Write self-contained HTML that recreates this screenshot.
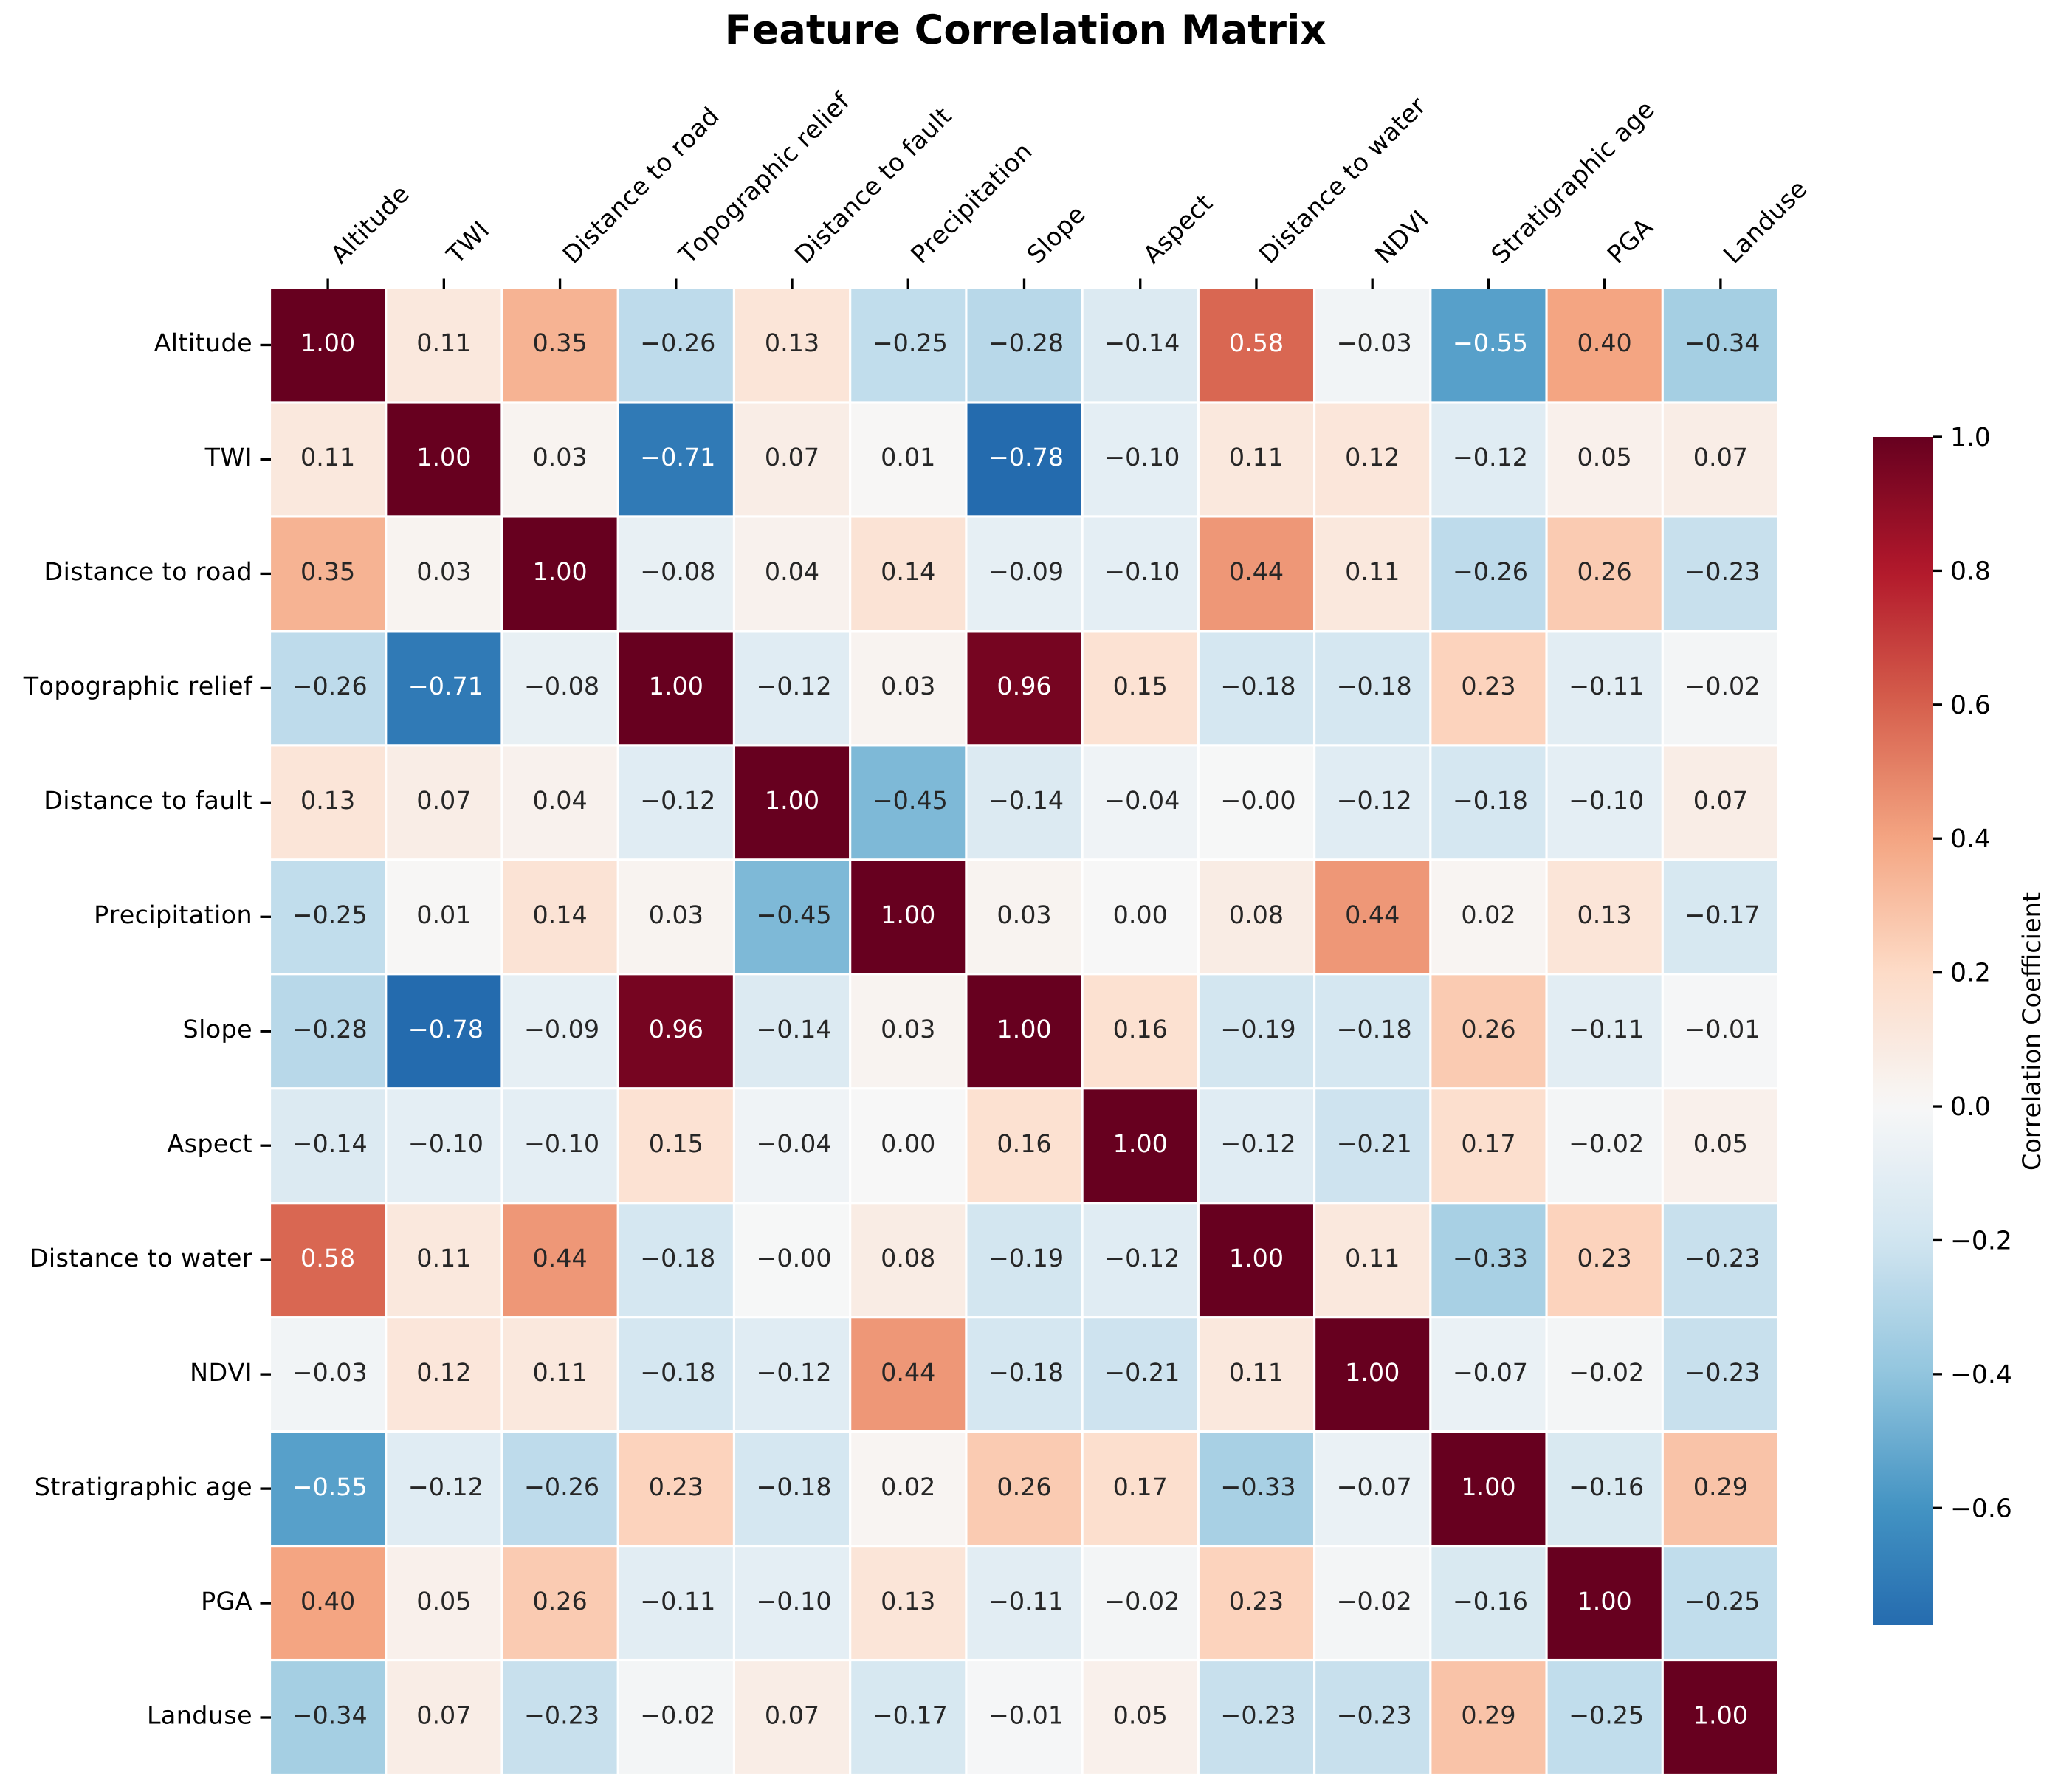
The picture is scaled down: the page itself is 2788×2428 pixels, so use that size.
<!DOCTYPE html>
<html lang="en">
<head>
<meta charset="utf-8">
<title>Feature Correlation Matrix</title>
<style>
  html, body { margin: 0; padding: 0; background: #ffffff; }
  svg { display: block; }
  text { font-family: "DejaVu Sans", "Liberation Sans", sans-serif; text-rendering: geometricPrecision; font-kerning: none; }
  .axis-label { letter-spacing: 0.4px; }
</style>
</head>
<body>
<svg id="chart" xmlns="http://www.w3.org/2000/svg" width="2788" height="2428" viewBox="0 0 2788 2428">
  <rect x="0" y="0" width="2788" height="2428" fill="#ffffff"></rect>
  <text x="1389" y="59" text-anchor="middle" font-size="54.17" font-weight="700" fill="#000000">Feature Correlation Matrix</text>
  <text transform="translate(2764 1397.5) rotate(-90)" text-anchor="middle" font-size="33.6" fill="#000000">Correlation Coefficient</text>
  <g id="heatmap"></g>
  <g id="x-axis"></g>
  <g id="y-axis"></g>
  <defs>
    <linearGradient id="cbar-gradient" x1="0" y1="0" x2="0" y2="1"></linearGradient>
  </defs>
  <g id="colorbar"></g>
</svg>
<script>
const features = ["Altitude", "TWI", "Distance to road", "Topographic relief", "Distance to fault", "Precipitation", "Slope", "Aspect", "Distance to water", "NDVI", "Stratigraphic age", "PGA", "Landuse"];
const rowAltitude = [1.00, 0.11, 0.35, -0.26, 0.13, -0.25, -0.28, -0.14, 0.58, -0.03, -0.55, 0.40, -0.34];
const rowTWI = [0.11, 1.00, 0.03, -0.71, 0.07, 0.01, -0.78, -0.10, 0.11, 0.12, -0.12, 0.05, 0.07];
const rowRoad = [0.35, 0.03, 1.00, -0.08, 0.04, 0.14, -0.09, -0.10, 0.44, 0.11, -0.26, 0.26, -0.23];
const rowRelief = [-0.26, -0.71, -0.08, 1.00, -0.12, 0.03, 0.96, 0.15, -0.18, -0.18, 0.23, -0.11, -0.02];
const rowFault = [0.13, 0.07, 0.04, -0.12, 1.00, -0.45, -0.14, -0.04, -0.004, -0.12, -0.18, -0.10, 0.07];
const rowPrecipitation = [-0.25, 0.01, 0.14, 0.03, -0.45, 1.00, 0.03, 0.00, 0.08, 0.44, 0.02, 0.13, -0.17];
const rowSlope = [-0.28, -0.78, -0.09, 0.96, -0.14, 0.03, 1.00, 0.16, -0.19, -0.18, 0.26, -0.11, -0.01];
const rowAspect = [-0.14, -0.10, -0.10, 0.15, -0.04, 0.00, 0.16, 1.00, -0.12, -0.21, 0.17, -0.02, 0.05];
const rowWater = [0.58, 0.11, 0.44, -0.18, -0.004, 0.08, -0.19, -0.12, 1.00, 0.11, -0.33, 0.23, -0.23];
const rowNDVI = [-0.03, 0.12, 0.11, -0.18, -0.12, 0.44, -0.18, -0.21, 0.11, 1.00, -0.07, -0.02, -0.23];
const rowStratigraphic = [-0.55, -0.12, -0.26, 0.23, -0.18, 0.02, 0.26, 0.17, -0.33, -0.07, 1.00, -0.16, 0.29];
const rowPGA = [0.40, 0.05, 0.26, -0.11, -0.10, 0.13, -0.11, -0.02, 0.23, -0.02, -0.16, 1.00, -0.25];
const rowLanduse = [-0.34, 0.07, -0.23, -0.02, 0.07, -0.17, -0.01, 0.05, -0.23, -0.23, 0.29, -0.25, 1.00];
const matrix = [rowAltitude, rowTWI, rowRoad, rowRelief, rowFault, rowPrecipitation, rowSlope, rowAspect, rowWater, rowNDVI, rowStratigraphic, rowPGA, rowLanduse];
const colorbarTicks = [1.0, 0.8, 0.6, 0.4, 0.2, 0.0, -0.2, -0.4, -0.6];
const colorMin = -0.775;
const colorMax = 1.0;

const NS = "http://www.w3.org/2000/svg";
const rdbuStops = ["#053061", "#2166ac", "#4393c3", "#92c5de", "#d1e5f0", "#f7f7f7", "#fddbc7", "#f4a582", "#d6604d", "#b2182b", "#67001f"];

function hexToRgb(hex) {
  return [parseInt(hex.slice(1, 3), 16), parseInt(hex.slice(3, 5), 16), parseInt(hex.slice(5, 7), 16)];
}
function colorRgb(value) {
  const t = Math.max(0, Math.min(1, 0.5 + value / 2)) * 10;
  const i = Math.min(9, Math.floor(t));
  const f = t - i;
  const a = hexToRgb(rdbuStops[i]);
  const b = hexToRgb(rdbuStops[i + 1]);
  return [0, 1, 2].map(function (k) { return Math.round(a[k] + (b[k] - a[k]) * f); });
}
function cssColor(rgb) {
  return "rgb(" + rgb[0] + "," + rgb[1] + "," + rgb[2] + ")";
}
function luminance(rgb) {
  const c = rgb.map(function (v) {
    const s = v / 255;
    return s <= 0.03928 ? s / 12.92 : Math.pow((s + 0.055) / 1.055, 2.4);
  });
  return 0.2126 * c[0] + 0.7152 * c[1] + 0.0722 * c[2];
}
function fmt(value, digits) {
  return value.toFixed(digits).replace("-", "\u2212");
}
function make(tag, attrs, parent) {
  const el = document.createElementNS(NS, tag);
  Object.keys(attrs).forEach(function (k) { el.setAttribute(k, attrs[k]); });
  parent.appendChild(el);
  return el;
}
function slug(s) {
  return s.toLowerCase().replace(/\s+/g, "-");
}

const gridLeft = 365.5;
const gridRight = 2409.5;
const gridTop = 390;
const gridBottom = 2404.5;
const cellGap = 3.2;
function xBand(i) { return gridLeft + i * (gridRight - gridLeft) / features.length; }
function yBand(i) { return gridTop + i * (gridBottom - gridTop) / features.length; }

const barTop = 592;
const barBottom = 2202;
const barLeft = 2538;
const barRight = 2618;
function barY(v) { return barTop + (colorMax - v) / (colorMax - colorMin) * (barBottom - barTop); }

const heatmap = document.getElementById("heatmap");
const xAxis = document.getElementById("x-axis");
const yAxis = document.getElementById("y-axis");
const colorbar = document.getElementById("colorbar");

matrix.forEach(function (row, r) {
  row.forEach(function (value, c) {
    const rgb = colorRgb(value);
    const cell = make("rect", {
      x: xBand(c) + cellGap / 2,
      y: yBand(r) + cellGap / 2,
      width: xBand(c + 1) - xBand(c) - cellGap,
      height: yBand(r + 1) - yBand(r) - cellGap,
      fill: cssColor(rgb)
    }, heatmap);
    
    
    const label = make("text", {
      x: (xBand(c) + xBand(c + 1)) / 2 + (value < 0 ? 2.5 : 0),
      y: (yBand(r) + yBand(r + 1)) / 2 + 8.7,
      "text-anchor": "middle",
      "font-size": 33.33,
      fill: luminance(rgb) > 0.408 ? "#262626" : "#ffffff"
    }, heatmap);
    label.textContent = fmt(value, 2);
    
    
  });
});

features.forEach(function (name, i) {
  const cx = (xBand(i) + xBand(i + 1)) / 2;
  const xTick = make("line", { x1: cx, x2: cx, y1: 377.5, y2: 392, stroke: "#000000", "stroke-width": 3.33 }, xAxis);
  
  
  const xLabel = make("text", {
    class: "axis-label",
    transform: "translate(" + (cx + 18) + " 359) rotate(-45)",
    "font-size": 33.33,
    fill: "#000000"
  }, xAxis);
  xLabel.textContent = name;
  
  

  const cy = (yBand(i) + yBand(i + 1)) / 2;
  const yTick = make("line", { x1: 352.5, x2: 367, y1: cy, y2: cy, stroke: "#000000", "stroke-width": 3.33 }, yAxis);
  
  
  const yLabel = make("text", {
    class: "axis-label",
    x: 342,
    y: cy + 8.7,
    "text-anchor": "end",
    "font-size": 33.33,
    fill: "#000000"
  }, yAxis);
  yLabel.textContent = name;
  
  
});

const gradient = document.getElementById("cbar-gradient");
for (let s = 0; s <= 60; s++) {
  const v = colorMax - (colorMax - colorMin) * s / 60;
  make("stop", { offset: s / 60, "stop-color": cssColor(colorRgb(v)) }, gradient);
}
const bar = make("rect", {
  x: barLeft,
  y: barTop,
  width: barRight - barLeft,
  height: barBottom - barTop,
  fill: "url(#cbar-gradient)"
}, colorbar);



colorbarTicks.forEach(function (v) {
  const y = barY(v);
  const tick = make("line", { x1: barRight, x2: barRight + 13, y1: y, y2: y, stroke: "#000000", "stroke-width": 3.33 }, colorbar);
  
  
  const label = make("text", {
    x: 2642,
    y: y + 12,
    "font-size": 34.5,
    fill: "#000000"
  }, colorbar);
  label.textContent = fmt(v, 1);
  
  
});
</script>
</body>
</html>
